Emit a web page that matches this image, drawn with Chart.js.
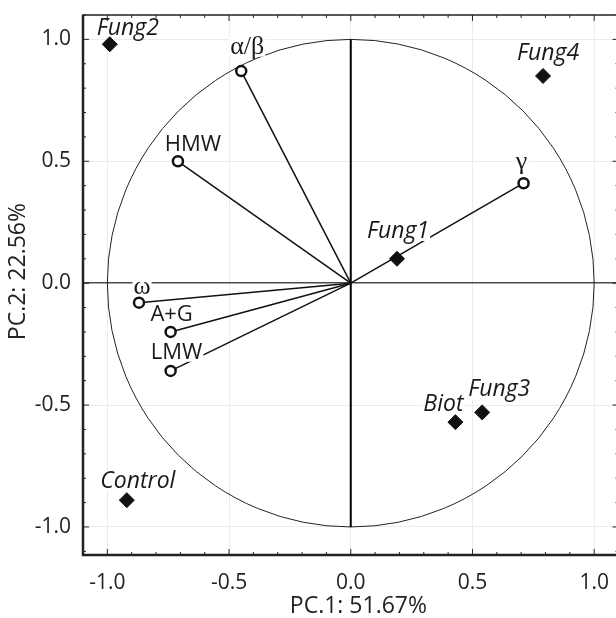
<!DOCTYPE html>
<html lang="en">
<head>
    <meta charset="UTF-8">
    <title>PCA biplot</title>
    <script src="https://cdn.jsdelivr.net/npm/chart.js"></script>
    <style>
        html, body { margin: 0; padding: 0; background: #fff; overflow: hidden; }
        .wrap { width: 627px; height: 618px; }
    </style>
</head>
<body>
    <div class="wrap">
        <canvas id="pcaChart"></canvas>
    </div>

    <script>
        // Scores (samples)
        const sampleNames = ['Fung2', 'Fung4', 'Fung1', 'Biot', 'Fung3', 'Control'];
        const sampleX = [-0.99, 0.79, 0.19, 0.43, 0.54, -0.92];
        const sampleY = [0.98, 0.85, 0.10, -0.57, -0.53, -0.89];

        // Loadings (variables)
        const loadingNames = ['\u03b1/\u03b2', 'HMW', '\u03b3', '\u03c9', 'A+G', 'LMW'];
        const loadingX = [-0.45, -0.71, 0.71, -0.87, -0.74, -0.74];
        const loadingY = [0.87, 0.50, 0.41, -0.08, -0.20, -0.36];

        // Axis ticks
        const tickValues = [-1.0, -0.5, 0.0, 0.5, 1.0];
        const xTitle = 'PC.1: 51.67%';
        const yTitle = 'PC.2: 22.56%';

        // label placement (pixel offsets of the text centre from the marker)
        const sampleLabelOffsets = [[18, -16], [5, -22], [1, -27], [-12, -18], [17, -23], [11, -19]];
        const loadingLabelOffsets = [[6, -24], [15, -17], [-2, -21], [3, -16], [1, -17], [6, -18]];
        const greek = ['\u03b1/\u03b2', '\u03b3', '\u03c9'];

        const sansFont = '"Open Sans", "DejaVu Sans", sans-serif';

        const datasets = [];
        // one line from the origin to every loading
        loadingNames.forEach((name, i) => {
            datasets.push({
                type: 'line',
                label: name + ' vector',
                data: [{ x: 0, y: 0 }, { x: loadingX[i], y: loadingY[i] }],
                borderColor: '#111',
                borderWidth: 1.5,
                pointRadius: 0,
                order: 3
            });
        });
        datasets.push({
            type: 'scatter',
            label: 'samples',
            data: sampleNames.map((n, i) => ({ x: sampleX[i], y: sampleY[i] })),
            pointStyle: 'rectRot',
            pointRadius: 7.5,
            backgroundColor: '#111',
            borderColor: '#111',
            borderWidth: 1,
            order: 2
        });
        datasets.push({
            type: 'scatter',
            label: 'loadings',
            data: loadingNames.map((n, i) => ({ x: loadingX[i], y: loadingY[i] })),
            pointStyle: 'circle',
            pointRadius: 5,
            backgroundColor: '#fff',
            borderColor: '#111',
            borderWidth: 2.5,
            order: 1
        });
        const sampleIndex = loadingNames.length;

        // unit circle, frame and inner ticks
        const backdropPlugin = {
            id: 'backdrop',
            beforeDatasetsDraw(chart) {
                const { ctx, chartArea, scales: { x, y } } = chart;
                const x0 = x.getPixelForValue(0), y0 = y.getPixelForValue(0);
                ctx.save();
                ctx.beginPath();
                ctx.rect(chartArea.left, chartArea.top, chartArea.right - chartArea.left, chartArea.bottom - chartArea.top);
                ctx.clip();
                ctx.strokeStyle = '#222';
                ctx.lineWidth = 1;
                ctx.beginPath();
                ctx.ellipse(x0, y0, x.getPixelForValue(1) - x0, y0 - y.getPixelForValue(1), 0, 0, Math.PI * 2);
                ctx.stroke();
                // vertical axis inside circle
                ctx.strokeStyle = '#000';
                ctx.lineWidth = 2;
                ctx.beginPath();
                ctx.moveTo(x0, y.getPixelForValue(1));
                ctx.lineTo(x0, y.getPixelForValue(-1));
                ctx.stroke();
                ctx.restore();
            },
            afterDraw(chart) {
                const { ctx, chartArea: a, scales: { x, y } } = chart;
                ctx.save();
                ctx.strokeStyle = '#222';
                ctx.lineWidth = 1;
                // minor + major ticks, pointing inwards
                for (let k = -11; k <= 11; k++) {
                    const v = k / 10;
                    const len = (k % 5 === 0) ? 6 : 3;
                    const px = x.getPixelForValue(v);
                    if (px >= a.left && px <= a.right) {
                        ctx.beginPath();
                        ctx.moveTo(px, a.bottom); ctx.lineTo(px, a.bottom - len);
                        ctx.moveTo(px, a.top); ctx.lineTo(px, a.top + len);
                        ctx.stroke();
                    }
                    const py = y.getPixelForValue(v);
                    if (py >= a.top && py <= a.bottom) {
                        ctx.beginPath();
                        ctx.moveTo(a.left, py); ctx.lineTo(a.left + len, py);
                        ctx.moveTo(a.right, py); ctx.lineTo(a.right - len, py);
                        ctx.stroke();
                    }
                }
                // frame
                ctx.lineWidth = 1.5;
                ctx.strokeRect(a.left, a.top, a.right - a.left, a.bottom - a.top);
                ctx.lineWidth = 2.5;
                ctx.beginPath();
                ctx.moveTo(a.left, a.top);
                ctx.lineTo(a.left, a.bottom);
                ctx.lineTo(a.right, a.bottom);
                ctx.stroke();
                ctx.restore();
            }
        };

        function drawLabel(ctx, text, cx, cy, size, font) {
            ctx.font = font;
            const w = ctx.measureText(text).width;
            const h = size * 0.8;
            ctx.fillStyle = '#fff';
            ctx.fillRect(cx - w / 2 - 1, cy - h / 2, w + 2, h);
            ctx.fillStyle = '#1a1a1a';
            ctx.fillText(text, cx, cy);
        }

        // labels with white backdrop, drawn under the markers
        const labelPlugin = {
            id: 'labels',
            beforeDatasetDraw(chart, args) {
                if (args.index !== sampleIndex) return;
                const { ctx, scales: { x, y } } = chart;
                ctx.save();
                ctx.textAlign = 'center';
                ctx.textBaseline = 'middle';
                sampleNames.forEach((name, i) => {
                    const [dx, dy] = sampleLabelOffsets[i];
                    drawLabel(ctx, name, x.getPixelForValue(sampleX[i]) + dx, y.getPixelForValue(sampleY[i]) + dy,
                        23, 'italic 23px ' + sansFont);
                });
                loadingNames.forEach((name, i) => {
                    const [dx, dy] = loadingLabelOffsets[i];
                    const isGreek = greek.includes(name);
                    const font = isGreek ? '26px "Liberation Serif", "DejaVu Serif", serif' : '22px ' + sansFont;
                    drawLabel(ctx, name, x.getPixelForValue(loadingX[i]) + dx, y.getPixelForValue(loadingY[i]) + dy,
                        isGreek ? 24 : 22, font);
                });
                ctx.restore();
            }
        };

        const majorTicks = scale => { scale.ticks = tickValues.map(v => ({ value: v })); };

        new Chart(document.getElementById('pcaChart'), {
            data: { datasets },
            options: {
                responsive: true,
                maintainAspectRatio: false,
                animation: false,
                layout: { padding: { top: 15, right: 2, left: 0, bottom: 0 } },
                plugins: { legend: { display: false }, tooltip: { enabled: false } },
                scales: {
                    x: {
                        type: 'linear',
                        min: -1.1,
                        max: 1.1,
                        afterBuildTicks: majorTicks,
                        afterFit: s => { s.height = 63; s.paddingLeft = 0; s.paddingRight = 0; },
                        border: { display: false },
                        grid: { color: '#ebebeb', drawTicks: false, lineWidth: 1 },
                        ticks: {
                            padding: 15,
                            color: '#222',
                            font: { family: sansFont, size: 21 },
                            callback: v => v.toFixed(1)
                        },
                        title: {
                            display: true,
                            text: '\u2002\u2009' + xTitle,
                            color: '#222',
                            font: { family: sansFont, size: 23, lineHeight: 1 },
                            padding: { top: 0, bottom: 0 }
                        }
                    },
                    y: {
                        type: 'linear',
                        min: -1.115,
                        max: 1.1,
                        afterBuildTicks: majorTicks,
                        afterFit: s => { s.width = 83; s.paddingTop = 0; s.paddingBottom = 0; },
                        border: { display: false },
                        grid: {
                            color: c => (c.tick && c.tick.value === 0) ? '#4a4a4a' : '#ebebeb',
                            lineWidth: c => (c.tick && c.tick.value === 0) ? 1.5 : 1,
                            drawTicks: false
                        },
                        ticks: {
                            padding: 12,
                            color: '#222',
                            font: { family: sansFont, size: 21 },
                            callback: v => v.toFixed(1)
                        },
                        title: {
                            display: true,
                            text: '\u2003\u2009' + yTitle,
                            color: '#222',
                            font: { family: sansFont, size: 23, lineHeight: 1 },
                            padding: { top: 7, bottom: 0 }
                        }
                    }
                }
            },
            plugins: [backdropPlugin, labelPlugin]
        });
    </script>
</body>
</html>
